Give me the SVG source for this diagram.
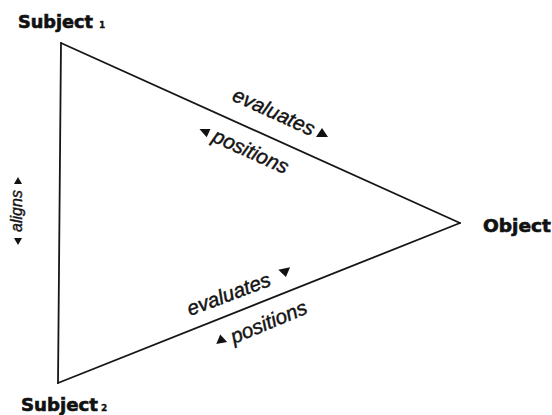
<svg xmlns="http://www.w3.org/2000/svg" width="552" height="415" viewBox="0 0 552 415">
<style>
.node{font-family:"DejaVu Sans",sans-serif;font-weight:bold;font-size:17px;fill:#111;stroke:#111;stroke-width:0.6}
.sub{font-family:"DejaVu Sans",sans-serif;font-weight:bold;font-size:9px;fill:#111;stroke:#111;stroke-width:0.3}
.edge{stroke:#161616;stroke-width:1.8;fill:none;stroke-linecap:round}
.lbl{font-family:"Liberation Sans",Arial,sans-serif;font-style:italic;font-size:20.5px;fill:#141414;stroke:#141414;stroke-width:0.45}
.al{font-family:"Liberation Sans",Arial,sans-serif;font-style:italic;font-size:16px;fill:#141414;stroke:#141414;stroke-width:0.4}
.tri{fill:#111}
</style>
<rect width="552" height="415" fill="#fff"/>
<g id="connectors">
<path class="edge" d="M61,43 L460,223"/>
<path class="edge" d="M460,223 L58,383"/>
<path class="edge" d="M58,383 L61,43"/>
</g>
<g id="edge-labels">
<g id="top-evaluates">
<text class="lbl" transform="translate(231,100) rotate(24.3)">evaluates</text>
<polygon class="tri" points="316,137 328,137 322,128"/>
</g>
<g id="top-positions">
<polygon class="tri" points="-5,0 5,-4.5 5,4.5" transform="translate(204,131) rotate(24.3)"/>
<text class="lbl" transform="translate(211,141) rotate(24.3)">positions</text>
</g>
<g id="bottom-evaluates">
<text class="lbl" transform="translate(190,316) rotate(-20.5)">evaluates</text>
<polygon class="tri" points="-6,-4 6,-4 0,4.5" transform="translate(285,272.5) rotate(-12)"/>
</g>
<g id="bottom-positions">
<polygon class="tri" points="-5.5,4 5.5,4 0,-4.5" transform="translate(221,339) rotate(-10)"/>
<text class="lbl" transform="translate(234,344) rotate(-22.6)">positions</text>
</g>
<g id="aligns">
<polygon class="tri" points="14,184 22,184 18,177"/>
<text class="al" text-anchor="middle" transform="translate(22,211) rotate(-90)">aligns</text>
<polygon class="tri" points="14,238 22,238 18,245"/>
</g>
</g>
<g id="subject1">
<text class="node" x="18" y="28" textLength="75" lengthAdjust="spacingAndGlyphs">Subject</text>
<text class="sub" x="99" y="28">1</text>
</g>
<g id="object">
<text class="node" x="483" y="232" textLength="68" lengthAdjust="spacingAndGlyphs">Object</text>
</g>
<g id="subject2">
<text class="node" x="21" y="411" textLength="77" lengthAdjust="spacingAndGlyphs">Subject</text>
<text class="sub" x="101" y="411">2</text>
</g>
</svg>
